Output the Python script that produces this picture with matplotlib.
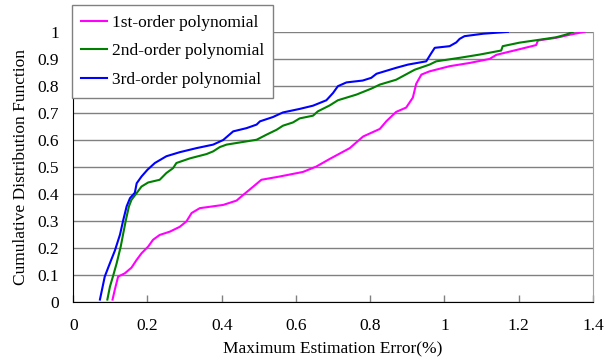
import matplotlib
matplotlib.use("Agg")
import matplotlib.pyplot as plt

plt.rcParams['font.family'] = ['Liberation Serif', 'DejaVu Serif']

# 1st-order polynomial
x1 = [0.106, 0.112, 0.121, 0.139, 0.157, 0.171, 0.184, 0.202, 0.215, 0.233, 0.260,
      0.287, 0.305, 0.319, 0.341, 0.404, 0.440, 0.458, 0.480, 0.507, 0.556, 0.619,
      0.655, 0.691, 0.745, 0.781, 0.826, 0.844, 0.870, 0.897, 0.915, 0.924, 0.938,
      0.960, 1.014, 1.068, 1.122, 1.140, 1.194, 1.247, 1.252, 1.301, 1.340, 1.377]
y1 = [0.01, 0.046, 0.095, 0.107, 0.128, 0.157, 0.181, 0.206, 0.231, 0.249, 0.261,
      0.279, 0.299, 0.33, 0.348, 0.36, 0.376, 0.397, 0.422, 0.453, 0.465, 0.482,
      0.502, 0.53, 0.57, 0.613, 0.641, 0.67, 0.704, 0.72, 0.757, 0.808, 0.842,
      0.854, 0.873, 0.885, 0.90, 0.915, 0.933, 0.951, 0.968, 0.978, 0.99, 1.0]

# 2nd-order polynomial
x2 = [0.092, 0.099, 0.108, 0.117, 0.128, 0.135, 0.142, 0.150, 0.157, 0.171, 0.184,
      0.202, 0.233, 0.251, 0.269, 0.278, 0.314, 0.359, 0.377, 0.395, 0.413, 0.494,
      0.521, 0.548, 0.565, 0.592, 0.610, 0.646, 0.659, 0.691, 0.713, 0.763, 0.803,
      0.826, 0.870, 0.920, 0.960, 0.978, 1.041, 1.095, 1.153, 1.157, 1.202, 1.247,
      1.301, 1.328, 1.346]
y2 = [0.01, 0.058, 0.10, 0.144, 0.206, 0.256, 0.305, 0.354, 0.379, 0.404, 0.428,
      0.443, 0.453, 0.478, 0.496, 0.515, 0.532, 0.548, 0.558, 0.574, 0.583, 0.601,
      0.62, 0.638, 0.653, 0.665, 0.68, 0.69, 0.706, 0.728, 0.747, 0.768, 0.79,
      0.805, 0.823, 0.86, 0.879, 0.891, 0.904, 0.916, 0.931, 0.947, 0.96, 0.969,
      0.98, 0.99, 1.0]

# 3rd-order polynomial
x3 = [0.072, 0.085, 0.099, 0.112, 0.126, 0.135, 0.144, 0.153, 0.166, 0.171, 0.184,
      0.200, 0.220, 0.251, 0.287, 0.332, 0.377, 0.404, 0.431, 0.467, 0.494, 0.503,
      0.538, 0.565, 0.610, 0.646, 0.682, 0.700, 0.713, 0.736, 0.780, 0.803, 0.817,
      0.870, 0.902, 0.951, 0.965, 0.974, 1.014, 1.032, 1.041, 1.054, 1.104, 1.171]
y3 = [0.01, 0.095, 0.145, 0.19, 0.25, 0.305, 0.355, 0.385, 0.405, 0.44, 0.465,
      0.49, 0.515, 0.54, 0.555, 0.57, 0.583, 0.60, 0.632, 0.644, 0.657, 0.669,
      0.685, 0.702, 0.715, 0.727, 0.747, 0.774, 0.799, 0.813, 0.82, 0.83, 0.845,
      0.867, 0.879, 0.891, 0.922, 0.941, 0.947, 0.961, 0.974, 0.984, 0.993, 1.0]

labels = ['1st-order polynomial', '2nd-order polynomial', '3rd-order polynomial']
xticks = [0, 0.2, 0.4, 0.6, 0.8, 1, 1.2, 1.4]
yticks = [0, 0.1, 0.2, 0.3, 0.4, 0.5, 0.6, 0.7, 0.8, 0.9, 1]

fig = plt.figure(figsize=(6.05, 3.62), dpi=100)
ax = fig.add_axes([0.121, 0.165, 0.859, 0.747])

ax.plot(x1, y1, color='#ff00ff', lw=1.5, label=labels[0])
ax.plot(x2, y2, color='#008000', lw=1.5, label=labels[1])
ax.plot(x3, y3, color='#0000ff', lw=1.5, label=labels[2])

ax.set_xlim(0, 1.4)
ax.set_ylim(0, 1)
ax.set_xticks(xticks)
ax.set_xticklabels(['0', '0.2', '0.4', '0.6', '0.8', '1', '1.2', '1.4'])
ax.set_yticks(yticks)
ax.set_yticklabels(['0', '0.1', '0.2', '0.3', '0.4', '0.5', '0.6', '0.7', '0.8', '0.9', '1'])
ax.tick_params(axis='x', direction='in', length=5, width=1, color='#808080', labelsize=12.5, pad=11)
ax.tick_params(axis='y', direction='in', length=0, labelsize=12.5, pad=10)
ax.grid(axis='y', color='#808080', lw=1)
ax.set_axisbelow(True)

ax.spines['left'].set_color('black')
ax.spines['bottom'].set_color('black')
ax.spines['right'].set_color('#a0a0a0')
ax.spines['top'].set_visible(False)

ax.set_xlabel('Maximum Estimation Error(%)', fontsize=12.5, labelpad=6)
ax.set_ylabel('Cumulative Distribution Function', fontsize=12.5, labelpad=6)

leg = ax.legend(loc='upper left', bbox_to_anchor=(0.1185, 0.986), bbox_transform=fig.transFigure,
                fancybox=False, fontsize=12.5, handlelength=1.5, handletextpad=0.25,
                labelspacing=0.72, borderaxespad=0, borderpad=0.55, framealpha=1)
leg.get_frame().set_edgecolor('#808080')
leg.get_frame().set_linewidth(1)

fig.savefig('out.png', dpi=100)
